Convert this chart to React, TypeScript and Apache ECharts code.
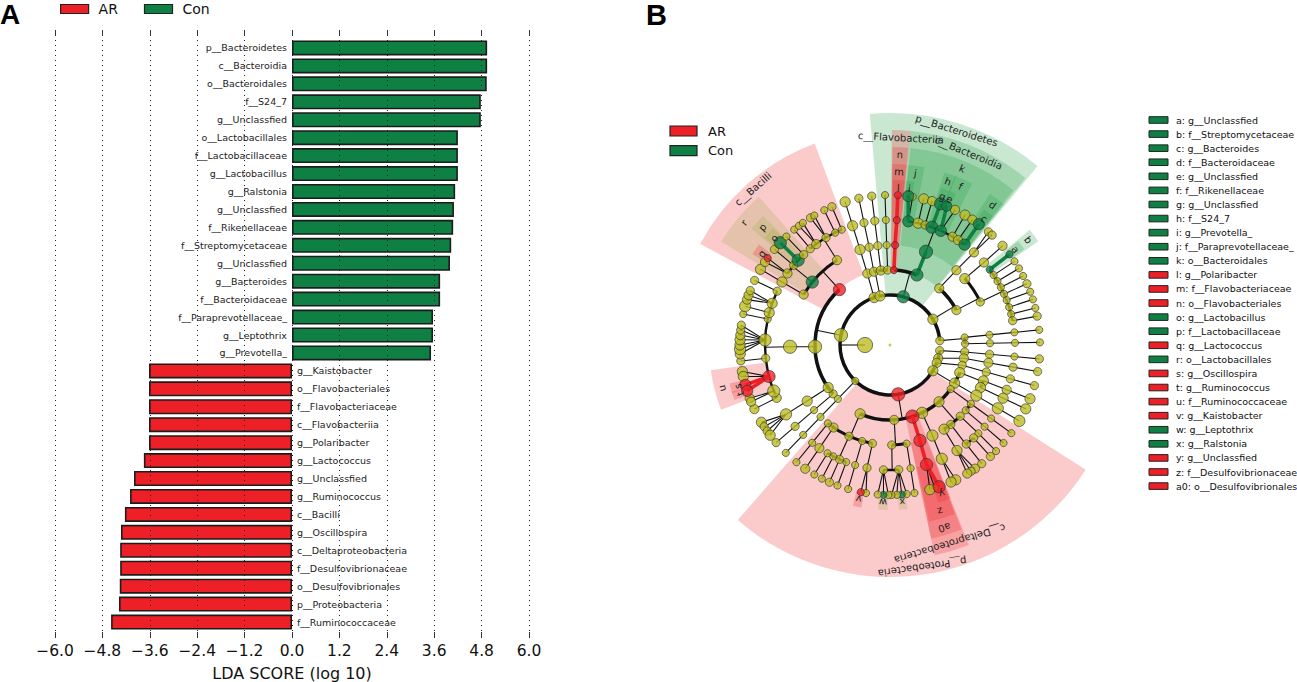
import React, { useEffect, useRef } from "react";
import * as echarts from "echarts";

// ---------- Panel A data ----------
const conTaxa = ["p__Bacteroidetes","c__Bacteroidia","o__Bacteroidales","f__S24_7","g__Unclassfied","o__Lactobacillales","f__Lactobacillaceae","g__Lactobacillus","g__Ralstonia","g__Unclassfied","f__Rikenellaceae","f__Streptomycetaceae","g__Unclassfied","g__Bacteroides","f__Bacteroidaceae","f__Paraprevotellaceae_","g__Leptothrix","g__Prevotella_"];
const conScores = [4.94,4.94,4.93,4.78,4.78,4.2,4.2,4.2,4.13,4.1,4.08,4.03,4.0,3.75,3.75,3.57,3.57,3.52];
const arTaxa = ["g__Kaistobacter","o__Flavobacteriales","f__Flavobacteriaceae","c__Flavobacteriia","g__Polaribacter","g__Lactococcus","g__Unclassfied","g__Ruminococcus","c__Bacilli","g__Oscillospira","c__Deltaproteobacteria","f__Desulfovibrionaceae","o__Desulfovibrionales","p__Proteobacteria","f__Ruminococcaceae"];
const arScores = [-3.62,-3.62,-3.62,-3.62,-3.62,-3.75,-4.0,-4.1,-4.23,-4.33,-4.35,-4.35,-4.36,-4.38,-4.58];

// ---------- Panel B data ----------
// Legend of the cladogram: key, taxon, class
const keyLetters = ["a","b","c","d","e","f","g","h","i","j","k","l","m","n","o","p","q","r","s","t","u","v","w","x","y","z","a0"];
const keyTaxa = ["g__Unclassfied","f__Streptomycetaceae","g__Bacteroides","f__Bacteroidaceae","g__Unclassfied","f__Rikenellaceae","g__Unclassfied","f__S24_7","g__Prevotella_","f__Paraprevotellaceae_","o__Bacteroidales","g__Polaribacter","f__Flavobacteriaceae","o__Flavobacteriales","g__Lactobacillus","f__Lactobacillaceae","g__Lactococcus","o__Lactobacillales","g__Oscillospira","g__Ruminococcus","f__Ruminococcaceae","g__Kaistobacter","g__Leptothrix","g__Ralstonia","g__Unclassfied","f__Desulfovibrionaceae","o__Desulfovibrionales"];
const keyClasses = ["Con","Con","Con","Con","Con","Con","Con","Con","Con","Con","Con","AR","AR","AR","Con","Con","AR","Con","AR","AR","AR","AR","Con","Con","AR","AR","AR"];

type Clade = { a: number; s: number; c: string; k: Clade[] };
const n = (a: number, s: number, c = "", ...k: Clade[]): Clade => ({ a, s, c, k });
const ch = (a: number, ...sizes: number[]): Clade => {
  const [first, ...rest] = sizes;
  return n(a, first, "", ...(rest.length ? [ch(a, ...rest)] : []));
};

const phylumBacteroidetes = n(15.4, 11, "Con",
  n(3, 6, "AR", n(2.9, 6, "AR+", n(3.1, 6, "AR+", n(3, 6, "AR+")))),
  n(21, 11, "Con", n(21.1, 12, "Con+",
    n(8.4, 10, "Con", n(8.7, 6), n(7, 10, "Con+")),
    n(13, 9, "", n(13, 9)),
    n(16.3, 7, "", n(16.3, 8)),
    n(19.6, 11, "Con", n(19.7, 11, "Con+")),
    n(24, 10, "Con", n(25.7, 8), n(22.2, 9, "Con+")),
    n(30, 8, "", n(30, 9)),
    n(33, 8, "", n(33.3, 8)),
    n(36.6, 10, "Con", n(36.3, 10, "Con+")))));

const phylumActino = n(59, 9, "",
  n(41, 8, "", n(41.6, 8, "", n(42.2, 8, "", n(41, 7), n(42.9, 7)))),
  n(62.3, 8, "",
    n(48.4, 9, "", n(48.7, 8, "", n(48.6, 8))),
    n(64.5, 7, "",
      n(52.9, 6, "Con", n(52.8, 6, "Con+")),
      n(56, 6, "", n(56.1, 6)), n(59.3, 6, "", n(59.3, 6)), n(62.5, 6, "", n(62.6, 6)),
      n(65.9, 6, "", n(65.9, 7)), n(69, 6, "", n(69.2, 6)), n(72.4, 6, "", n(72.3, 6)),
      n(75.7, 6, "", n(75.7, 6)), n(78.8, 7, "", n(78.9, 7)))));

const phylumProteobacteria = n(170.6, 12, "AR",
  n(126, 6, "", ch(126, 6, 6, 6), ch(130.8, 6, 6, 6)),
  n(139.2, 9, "",
    n(135.4, 7, "", n(135, 6, "", n(135, 6))),
    n(142.6, 7, "", n(138, 7, "", n(138, 7)), n(142.4, 7, "", n(142.3, 7))),
    n(147.3, 9, "", n(147.6, 9, "", n(145.5, 8), n(147.3, 7), n(149, 8)))),
  n(154.7, 10, "", n(154.9, 10, "", n(155.5, 10, "", n(154, 9), n(156, 9)))),
  n(162.6, 12, "AR", n(162.6, 11, "AR+", n(163, 11, "AR+", n(162.6, 6), n(164.6, 9), n(160.9, 11, "AR+")))),
  n(176.8, 8, "",
    n(170.4, 6, "", n(170.5, 6, "", n(170.6, 6))),
    n(179, 7, "",
      n(176, 7, "", n(173.6, 6), n(175.5, 6, "Con"), n(177.4, 6), n(179.4, 6)),
      n(183, 7, "", n(180.6, 6), n(182.5, 6, "Con"), n(184.7, 6)))),
  n(203.5, 9, "",
    n(190.1, 7, "", n(190.6, 7, "", n(189.2, 6), n(191.2, 6, "AR"))),
    ch(196.2, 6, 6, 6),
    n(204.2, 7, "",
      n(200.5, 6, "", n(200.5, 6)), n(203.8, 7, "", n(203.8, 7)),
      n(207, 6, "", n(207, 6)), n(210, 6, "", n(210.3, 6))),
    n(214.4, 8, "", n(214.4, 8, "", n(214.4, 8))),
    n(218.4, 6, "", n(218.5, 6, "", n(218.6, 6)))));

const classBacilli = n(-42.4, 11, "AR",
  n(-59.7, 8, "", n(-59.7, 9, "", n(-59.7, 9))),
  n(-51, 11, "Con",
    n(-55.1, 8, "", n(-56.4, 8), n(-54.6, 6, "AR")),
    n(-50.4, 7, "", n(-50.4, 7)),
    n(-47.3, 11, "Con", n(-47, 11, "Con+")),
    n(-43.7, 7, "", n(-43.7, 6))),
  n(-32, 8, "",
    n(-39.6, 7, "", n(-39.7, 6)),
    n(-36.2, 8, "", n(-37.4, 6), n(-35.5, 6)),
    n(-30.8, 7, "", n(-32, 7), n(-30.3, 6)),
    n(-26, 6, "", n(-26, 6)),
    n(-22.7, 6, "", n(-22.8, 7))));

const phylumFirmicutes = n(281.3, 12, "",
  n(229.3, 7, "", ch(229.4, 6, 7, 7)),
  n(235.5, 9, "", n(235.9, 9, "", n(236.3, 10, "", n(239, 9), n(237, 7), n(235, 7), n(233, 9)))),
  n(268.7, 12, "", n(269, 12, "",
    n(245, 8, "", n(244.7, 8)),
    n(248.4, 11, "", n(249.2, 8), n(247.8, 8)),
    n(255.4, 11, "AR", n(259.8, 9), n(257.9, 9), n(254.6, 10, "AR+"), n(252.2, 10, "AR+")),
    n(263.9, 7, "", n(263.9, 7)),
    n(272.3, 11, "", n(266.6, 9), n(268.4, 10), n(270, 9), n(272, 9), n(273.8, 8), n(275.7, 7), n(277.6, 7)),
    n(282, 6, "", n(281.9, 6)),
    n(285, 9, "", n(285, 10)),
    n(289.5, 9, "", n(287.6, 8), n(289.4, 8), n(291.3, 7)),
    n(295.5, 7, "", n(295.5, 7)))),
  classBacilli);

const kingdomBacteria = n(270, 14, "",
  phylumFirmicutes,
  n(224, 6, "", ch(224, 6, 6, 6, 6)),
  n(-18.5, 9, "", n(-17.6, 8, "", ch(-17.4, 9, 9, 9))),
  n(-11.5, 9, "", n(-12.4, 8, "", ch(-12, 7, 7, 7)), n(-7, 8, "", ch(-7, 7, 7, 7)), n(-1.8, 7, "", ch(-1.9, 6, 6, 6))),
  phylumBacteroidetes,
  phylumActino,
  n(85, 7, "", ch(84.2, 6, 6, 6, 6), ch(89, 6, 6, 6, 6)),
  n(96.5, 7, "", ch(95.3, 7, 7, 6, 7)),
  n(105.4, 8, "", ch(100.2, 8, 8, 7, 7)),
  n(111, 8, "", ch(105.7, 7, 7, 7, 7)),
  n(121, 9, "",
    n(111.6, 9, "", ch(111, 9, 8, 9), ch(115.2, 9, 9, 9)),
    n(120.5, 9, "", ch(120.4, 10, 10, 10)),
  ),
  phylumProteobacteria);

const treeRoot = n(0, 3, "", kingdomBacteria);

// Highlighted clades: text, taxonomic level, from angle, to angle, class
const cladeShades: [string, number, number, number, string][] = [
  ["p__Bacteroidetes", 2, -5, 39.5, "Con"],
  ["p__Proteobacteria", 2, 122.5, 221, "AR"],
  ["c__Bacilli", 3, -62, -20.5, "AR"],
  ["c__Flavobacteriia", 3, 0.5, 5.5, "AR"],
  ["c__Bacteroidia", 3, 5.5, 39, "Con"],
  ["c__Deltaproteobacteria", 3, 158.5, 168, "AR"],
  ["r", 4, -58.5, -41.5, "Mix"],
  ["n", 4, 0.7, 5.3, "AR"],
  ["k", 4, 6, 38.5, "Con"],
  ["a0", 4, 158.8, 168, "AR"],
  ["p", 5, -50, -44.5, "Mix"],
  ["m", 5, 0.8, 5.2, "AR"],
  ["j", 5, 5.8, 11, "Con"],
  ["h", 5, 17.5, 21.5, "Con"],
  ["f", 5, 21, 27, "Con"],
  ["d", 5, 33.5, 39, "Con"],
  ["b", 5, 50.5, 55, "Con"],
  ["z", 5, 159, 167.5, "AR"],
  ["u", 5, 249, 262, "AR"],
  ["q", 6, -56.5, -52.5, "AR"],
  ["o", 6, -49.5, -45, "Mix"],
  ["l", 6, 1, 5, "AR"],
  ["i", 6, 5.5, 8.5, "Con"],
  ["g", 6, 18, 20.8, "Con"],
  ["e", 6, 20.8, 23.5, "Con"],
  ["c", 6, 34.8, 38.6, "Con"],
  ["a", 6, 51, 54.5, "Con"],
  ["y", 6, 158.5, 163, "AR"],
  ["x", 6, 174, 177, "Mix"],
  ["w", 6, 180.8, 184.2, "Mix"],
  ["v", 6, 190, 193, "AR"],
  ["s", 6, 253, 256.5, "AR"],
  ["t", 6, 250.5, 253.5, "AR"],
];
// Outer edge of a highlight for each taxonomic level, in level units
const shadeOuter = [0, 0, 9.28, 8.6, 7.92, 7.24, 6.6];
const arcWidths = [0, 0, 3.5, 3.5, 3, 2.4];

const FONT = '"DejaVu Sans"';
const RED = "#ee2027";
const GREEN = "#0e8043";
const OLIVE = "#bdbd22";
const INK = "#111";
const tone = (c: string) => (c.startsWith("AR") ? RED : c.startsWith("Con") ? GREEN : OLIVE);
const shadeFill = (c: string) =>
  c === "AR" ? "rgba(238,32,39,0.24)" : c === "Mix" ? "rgba(160,170,70,0.24)" : "rgba(40,160,70,0.25)";
const rad = (deg: number) => ((deg - 90) * Math.PI) / 180;
const wrap = (a: number, about: number) => {
  let v = a;
  while (v < about - 180) v += 360;
  while (v >= about + 180) v -= 360;
  return v;
};

type Branch = { kind: "line" | "arc"; l1: number; a1: number; l2: number; a2: number; w: number; color: string };
const nodeRows: any[] = [];
const branchRows: Branch[] = [];
const walk = (node: Clade, level: number) => {
  nodeRows.push({
    value: [level, node.a, node.s],
    itemStyle: { color: level === 0 ? OLIVE : tone(node.c), borderColor: level === 0 ? OLIVE : "#2a2a2a", borderWidth: level === 0 ? 0 : 0.8 },
  });
  const kids = node.k;
  if (kids.length && level > 0) {
    const child = level + 1;
    const angles = kids.map((k) => wrap(k.a, node.a));
    if (child === 6 || kids.length === 1) {
      kids.forEach((k) => {
        const thick = k.c.endsWith("+");
        branchRows.push({ kind: "line", l1: level, a1: node.a, l2: child, a2: k.a, w: thick ? 3.6 : 1.1, color: thick ? tone(k.c) : INK });
      });
    } else {
      branchRows.push({ kind: "line", l1: level, a1: node.a, l2: child, a2: node.a, w: 1.1, color: INK });
      branchRows.push({ kind: "arc", l1: child, a1: Math.min(...angles, node.a), l2: child, a2: Math.max(...angles, node.a), w: arcWidths[child], color: INK });
    }
  }
  kids.forEach((k) => walk(k, level + 1));
};
walk(treeRoot, 0);

const legendGraphics = () => {
  const items: any[] = [
    { type: "text", x: 0, y: 0, style: { text: "A", fontSize: 28, fontWeight: "bold", fontFamily: "Liberation Sans", fill: "#000" } },
    { type: "text", x: 646, y: 0, style: { text: "B", fontSize: 29, fontWeight: "bold", fontFamily: "Liberation Sans", fill: "#000" } },
  ];
  ["AR", "Con"].forEach((name, i) => {
    items.push({ type: "rect", shape: { x: 670, y: 126 + i * 19.7, width: 27, height: 10 }, style: { fill: tone(name), stroke: "#222", lineWidth: 1.2 } });
    items.push({ type: "text", x: 708, y: 131 + i * 19.7, style: { text: name, fontSize: 13, fontFamily: FONT, fill: "#111", verticalAlign: "middle" } });
  });
  keyLetters.forEach((k, i) => {
    const y = 120 + i * 14.08;
    items.push({ type: "rect", shape: { x: 1149, y: y - 3.3, width: 19, height: 6.6 }, style: { fill: tone(keyClasses[i]), stroke: "#222", lineWidth: 1 } });
    items.push({ type: "text", x: 1176, y, style: { text: `${k}: ${keyTaxa[i]}`, fontSize: 9.5, fontFamily: FONT, fill: "#111", verticalAlign: "middle" } });
  });
  return items;
};

export default function App() {
  const ref = useRef<HTMLDivElement>(null);
  useEffect(() => {
    document.body.style.margin = "0";
    const chart = echarts.init(ref.current!, undefined, { renderer: "svg" });
    const categories = [...conTaxa, ...arTaxa];
    const conData = [...conScores, ...arTaxa.map(() => null)];
    const arData = [...conTaxa.map(() => null), ...arScores];
    const barLabel = (position: string) => ({
      show: true, position, distance: 5, formatter: "{b}", fontSize: 9.5, fontFamily: FONT, color: "#222",
    });
    const xBase = { type: "value", min: -6, max: 6, interval: 1.2 };
    chart.setOption({
      animation: false,
      backgroundColor: "#fff",
      textStyle: { fontFamily: FONT },
      legend: {
        data: ["AR", "Con"], icon: "rect", left: 55, top: -3, itemWidth: 28, itemHeight: 9, itemGap: 26,
        selectedMode: false,
        itemStyle: { borderColor: "#222", borderWidth: 1.2 },
        textStyle: { fontSize: 14, fontFamily: FONT, color: "#111", padding: [0, 0, 0, 5] },
      },
      grid: [
        { left: 55, width: 474, top: 30, height: 608, outerBoundsMode: "none" },
        { left: 55, width: 474, top: 39, height: 592, outerBoundsMode: "none" },
      ],
      xAxis: [
        {
          ...xBase, gridIndex: 0, position: "bottom", z: 5,
          name: "LDA SCORE (log 10)", nameLocation: "middle", nameGap: 27,
          nameTextStyle: { fontSize: 16, fontFamily: FONT, color: "#111" },
          axisLine: { show: false },
          axisTick: { show: true, inside: true, length: 6, lineStyle: { color: "#333", width: 1 } },
          axisLabel: { show: true, margin: 5, fontSize: 15.5, fontFamily: FONT, color: "#111", hideOverlap: false, showMinLabel: true, showMaxLabel: true,
            formatter: (v: number) => `${v < -0.001 ? "\u2212" : ""}${Math.abs(v).toFixed(1)}` },
          splitLine: { show: true, lineStyle: { color: "#222", width: 1, type: [1, 4] } },
        },
        {
          ...xBase, gridIndex: 0, position: "top", z: 5,
          axisLine: { show: false },
          axisTick: { show: true, inside: true, length: 6, lineStyle: { color: "#333", width: 1 } },
          axisLabel: { show: false }, splitLine: { show: false },
        },
        { ...xBase, gridIndex: 1, show: false, splitLine: { show: false } },
      ],
      yAxis: [
        { type: "value", gridIndex: 0, min: 0, max: 1, show: false, splitLine: { show: false } },
        { type: "category", gridIndex: 1, data: categories, inverse: true, show: false },
      ],
      polar: { center: [890, 345], radius: [0, 250] },
      angleAxis: { type: "value", min: 0, max: 360, startAngle: 90, clockwise: true, show: false },
      radiusAxis: { type: "value", min: 0, max: 10, show: false },
      series: [
        {
          name: "AR", type: "bar", xAxisIndex: 2, yAxisIndex: 1, data: arData, barWidth: 15, barGap: "-100%",
          itemStyle: { color: RED, borderColor: "#1c1c1c", borderWidth: 1.6 }, label: barLabel("right"),
        },
        {
          name: "Con", type: "bar", xAxisIndex: 2, yAxisIndex: 1, data: conData, barWidth: 15, barGap: "-100%",
          itemStyle: { color: GREEN, borderColor: "#1c1c1c", borderWidth: 1.6 }, label: barLabel("left"),
        },
        {
          name: "highlights", type: "custom", coordinateSystem: "polar", z: 3, silent: true,
          data: cladeShades.map((s) => [s[1], s[2], s[3]]),
          encode: { radius: 0, angle: 1 },
          renderItem: (params: any, api: any) => {
            const s = cladeShades[params.dataIndex];
            const cs = params.coordSys;
            const px = (lvl: number) => {
              const p = api.coord([lvl, 0]);
              return Math.hypot(p[0] - cs.cx, p[1] - cs.cy);
            };
            return {
              type: "sector",
              shape: { cx: cs.cx, cy: cs.cy, r0: px(s[1]), r: px(shadeOuter[s[1]]), startAngle: rad(s[2]), endAngle: rad(s[3]), clockwise: true },
              style: { fill: shadeFill(s[4]) },
            };
          },
        },
        {
          name: "branches", type: "custom", coordinateSystem: "polar", z: 4, silent: true,
          data: branchRows.map((b) => [b.l1, b.a1, b.l2, b.a2]),
          encode: { radius: 0, angle: 1 },
          renderItem: (params: any, api: any) => {
            const b = branchRows[params.dataIndex];
            const cs = params.coordSys;
            const p1 = api.coord([b.l1, ((b.a1 % 360) + 360) % 360]);
            if (b.kind === "arc") {
              return {
                type: "arc",
                shape: { cx: cs.cx, cy: cs.cy, r: Math.hypot(p1[0] - cs.cx, p1[1] - cs.cy), startAngle: rad(b.a1), endAngle: rad(b.a2), clockwise: true },
                style: { stroke: b.color, lineWidth: b.w, fill: "none" },
              };
            }
            const p2 = api.coord([b.l2, ((b.a2 % 360) + 360) % 360]);
            return {
              type: "line",
              shape: { x1: p1[0], y1: p1[1], x2: p2[0], y2: p2[1] },
              style: { stroke: b.color, lineWidth: b.w },
            };
          },
        },
        {
          name: "taxa", type: "scatter", coordinateSystem: "polar", z: 5, silent: true,
          data: nodeRows.map((r) => ({ ...r, value: r.value.map((v: number, i: number) => (i === 1 ? ((v % 360) + 360) % 360 : v)) })),
          symbolSize: (v: number[]) => (v[0] === 0 ? v[2] : v[2] + 1.2),
        },
        {
          name: "clade labels", type: "custom", coordinateSystem: "polar", z: 6, silent: true,
          data: cladeShades.map((s) => [shadeOuter[s[1]] - 0.3, (s[2] + s[3]) / 2]),
          encode: { radius: 0, angle: 1 },
          renderItem: (params: any, api: any) => {
            const s = cladeShades[params.dataIndex];
            const mid = (s[2] + s[3]) / 2;
            const p = api.coord([shadeOuter[s[1]] - 0.3, ((mid % 360) + 360) % 360]);
            return {
              type: "text", x: p[0], y: p[1], rotation: (-mid * Math.PI) / 180,
              style: { text: s[0], fontSize: 10, fontFamily: FONT, fill: "#222", align: "center", verticalAlign: "middle" },
            };
          },
        },
      ],
      graphic: { elements: legendGraphics() },
    });
    return () => chart.dispose();
  }, []);
  return <div ref={ref} style={{ position: "absolute", left: 0, top: 0, width: 1297, height: 682 }} />;
}
